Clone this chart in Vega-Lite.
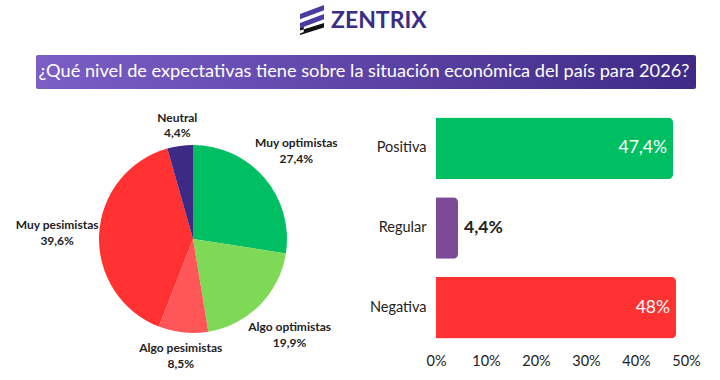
{
  "$schema": "https://vega.github.io/schema/vega-lite/v6.json",
  "padding": 0,
  "background": "white",
  "bounds": "flush",
  "config": {"view": {"stroke": null}, "font": "Lato"},
  "datasets": {
    "pie": [
      {"idx": 1, "name": "Muy optimistas", "value": 27.4, "label": "27,4%"},
      {"idx": 2, "name": "Algo optimistas", "value": 19.9, "label": "19,9%"},
      {"idx": 3, "name": "Algo pesimistas", "value": 8.5, "label": "8,5%"},
      {"idx": 4, "name": "Muy pesimistas", "value": 39.6, "label": "39,6%"},
      {"idx": 5, "name": "Neutral", "value": 4.4, "label": "4,4%"}
    ],
    "bars": [
      {"cat": "Positiva", "value": 47.4, "label": "47,4%"},
      {"cat": "Regular", "value": 4.4, "label": "4,4%"},
      {"cat": "Negativa", "value": 48, "label": "48%"}
    ]
  },
  "spacing": 4,
  "vconcat": [
    {
      "width": 720,
      "height": 100,
      "data": {"values": [{"title": "¿Qué nivel de expectativas tiene sobre la  situación económica del país para 2026?", "brand": "ZENTRIX"}]},
      "layer": [
        {
          "mark": {"type": "rect", "cornerRadius": 2, "color": {"gradient": "linear", "x1": 0, "x2": 1, "y1": 0, "y2": 0, "stops": [{"offset": 0, "color": "#7b5ec6"}, {"offset": 1, "color": "#3e2a86"}]}},
          "encoding": {
            "x": {"datum": 36, "type": "quantitative", "scale": {"domain": [0, 720], "nice": false, "zero": false}, "axis": null},
            "x2": {"datum": 696},
            "y": {"datum": 55, "type": "quantitative", "scale": {"domain": [0, 100], "nice": false, "zero": false, "reverse": true}, "axis": null},
            "y2": {"datum": 89}
          }
        },
        {
          "mark": {"type": "text", "color": "white", "fontSize": 18.2, "font": "Lato", "baseline": "middle"},
          "encoding": {
            "x": {"datum": 364, "type": "quantitative"},
            "y": {"datum": 72, "type": "quantitative"},
            "text": {"field": "title"}
          }
        },
        {
          "mark": {"type": "text", "color": "#3b2d85", "fontSize": 23, "fontWeight": "bold", "font": "Lato", "align": "left", "baseline": "middle"},
          "encoding": {
            "x": {"datum": 331, "type": "quantitative"},
            "y": {"datum": 21, "type": "quantitative"},
            "text": {"field": "brand"}
          }
        },
        {
          "mark": {"type": "point", "filled": true, "opacity": 1, "color": "#4b3aa0", "size": 900, "shape": "M -0.8,-0.05 L 0.8,-0.65 L 0.8,-1 L -0.8,-0.4 Z M -0.8,0.55 L 0.8,-0.05 L 0.8,-0.4 L -0.8,0.2 Z"},
          "encoding": {
            "x": {"datum": 312, "type": "quantitative"},
            "y": {"datum": 20, "type": "quantitative"}
          }
        },
        {
          "mark": {"type": "point", "filled": true, "opacity": 1, "color": "#111111", "size": 900, "shape": "M -0.8,1 L 0.8,0.5 L 0.8,0.2 L -0.8,0.7 Z M -0.8,0.55 L -0.55,0.45 L -0.55,0.8 L -0.8,0.9 Z"},
          "encoding": {
            "x": {"datum": 312, "type": "quantitative"},
            "y": {"datum": 20, "type": "quantitative"}
          }
        }
      ]
    },
    {
      "bounds": "flush",
      "spacing": 50,
      "resolve": {"scale": {"color": "independent"}},
      "hconcat": [
        {
          "width": 386,
          "height": 270,
          "data": {"name": "pie"},
          "encoding": {
            "theta": {"field": "value", "type": "quantitative", "stack": true},
            "order": {"field": "idx", "type": "quantitative", "sort": "ascending"}
          },
          "layer": [
            {
              "mark": {"type": "arc", "outerRadius": 94},
              "encoding": {
                "color": {"field": "name", "type": "nominal", "sort": null, "legend": null,
                  "scale": {"domain": ["Muy optimistas", "Algo optimistas", "Algo pesimistas", "Muy pesimistas", "Neutral"],
                            "range": ["#00bf63", "#7ed957", "#ff5757", "#ff3131", "#3d2a85"]}}
              }
            },
            {
              "mark": {"type": "text", "radius": 136, "dy": -8, "fontSize": 12, "fontWeight": "bold", "color": "#222222", "font": "Lato"},
              "encoding": {
                "text": {"condition": {"test": "datum.name != 'Neutral' && datum.name != 'Algo pesimistas'", "field": "name"}, "value": ""}
              }
            },
            {
              "mark": {"type": "text", "radius": 136, "dy": 8, "fontSize": 12, "fontWeight": "bold", "color": "#222222", "font": "Lato"},
              "encoding": {
                "text": {"condition": {"test": "datum.name != 'Neutral' && datum.name != 'Algo pesimistas'", "field": "label"}, "value": ""}
              }
            },
            {
              "mark": {"type": "text", "radius": 114, "dy": -8, "fontSize": 12, "fontWeight": "bold", "color": "#222222", "font": "Lato"},
              "encoding": {
                "text": {"condition": {"test": "datum.name == 'Neutral'", "field": "name"}, "value": ""}
              }
            },
            {
              "mark": {"type": "text", "radius": 114, "dy": 7, "fontSize": 12, "fontWeight": "bold", "color": "#222222", "font": "Lato"},
              "encoding": {
                "text": {"condition": {"test": "datum.name == 'Neutral'", "field": "label"}, "value": ""}
              }
            },
            {
              "mark": {"type": "text", "radius": 118, "dy": -8, "fontSize": 12, "fontWeight": "bold", "color": "#222222", "font": "Lato"},
              "encoding": {
                "text": {"condition": {"test": "datum.name == 'Algo pesimistas'", "field": "name"}, "value": ""}
              }
            },
            {
              "mark": {"type": "text", "radius": 118, "dy": 8, "fontSize": 12, "fontWeight": "bold", "color": "#222222", "font": "Lato"},
              "encoding": {
                "text": {"condition": {"test": "datum.name == 'Algo pesimistas'", "field": "label"}, "value": ""}
              }
            }
          ]
        },
        {
          "width": 250,
          "height": 248,
          "data": {"name": "bars"},
          "encoding": {
            "y": {"field": "cat", "type": "nominal", "sort": null,
              "scale": {"paddingInner": 0.225, "paddingOuter": 0.17},
              "axis": {"title": null, "ticks": false, "domain": false, "labelFontSize": 14.5, "labelColor": "#222222", "labelPadding": 10, "labelFont": "Lato"}},
            "x": {"field": "value", "type": "quantitative",
              "scale": {"domain": [0, 50], "nice": false},
              "axis": {"title": null, "values": [0, 10, 20, 30, 40, 50], "labelExpr": "datum.value + '%'", "grid": false, "ticks": false, "domain": false, "labelFontSize": 14.5, "labelColor": "#222222", "labelPadding": 2, "labelFlush": false, "labelFont": "Lato"}}
          },
          "layer": [
            {
              "mark": {"type": "bar", "cornerRadiusEnd": 5},
              "encoding": {
                "color": {"field": "cat", "type": "nominal", "legend": null,
                  "scale": {"domain": ["Positiva", "Regular", "Negativa"], "range": ["#00bf63", "#7c4b98", "#ff3131"]}}
              }
            },
            {
              "transform": [{"filter": "datum.value > 10"}],
              "mark": {"type": "text", "align": "right", "dx": -6, "fontSize": 17.5, "color": "white", "font": "Lato"},
              "encoding": {"text": {"field": "label"}}
            },
            {
              "transform": [{"filter": "datum.value <= 10"}],
              "mark": {"type": "text", "align": "left", "dx": 6, "fontSize": 17.5, "fontWeight": "bold", "color": "#222222", "font": "Lato"},
              "encoding": {"text": {"field": "label"}}
            }
          ]
        }
      ]
    }
  ]
}
